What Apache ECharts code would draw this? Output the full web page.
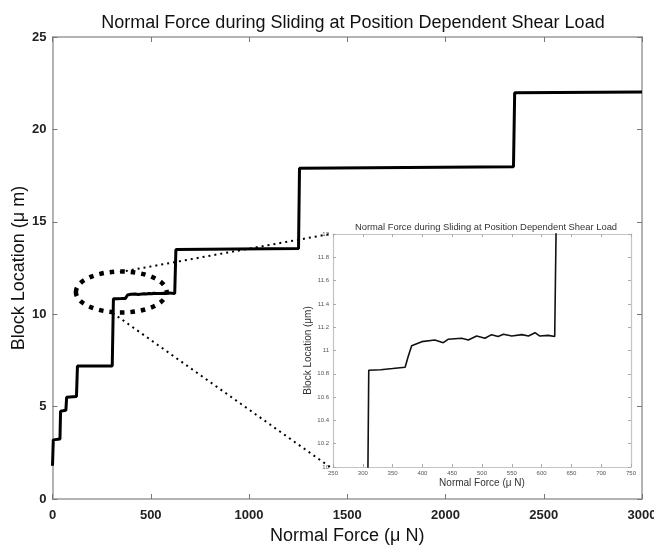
<!DOCTYPE html>
<html>
<head>
<meta charset="utf-8">
<script src="https://cdn.jsdelivr.net/npm/echarts@6/dist/echarts.min.js"></script>
<style>
html,body{margin:0;padding:0;background:#fff;}
#c{width:654px;height:546px;}
</style>
</head>
<body>
<div id="c"></div>
<script>
// ---- data ----
const chartTitle = 'Normal Force during Sliding at Position Dependent Shear Load';
const xAxisName = 'Normal Force (\u03bc N)';
const yAxisName = 'Block Location (\u03bc m)';
const insetYAxisName = 'Block Location (\u03bcm)';

// Normal force (uN) and block location (um) of the sliding trace
const normalForce = [0, 4, 38, 41, 68, 72, 122, 127, 304, 310, 330, 350, 371, 376, 382, 399, 421, 435, 443, 466, 477, 491, 505, 516, 527, 536, 550, 567, 578, 589, 597, 611, 622, 625, 628, 1252, 1257, 1261, 2346, 2352, 2356, 3000];
const blockLocation = [1.8, 3.2, 3.25, 4.75, 4.8, 5.5, 5.55, 7.2, 7.2, 10.83, 10.835, 10.845, 10.856, 10.947, 11.04, 11.076, 11.09, 11.067, 11.096, 11.105, 11.09, 11.124, 11.105, 11.136, 11.12, 11.14, 11.124, 11.136, 11.124, 11.153, 11.124, 11.13, 11.12, 11.105, 13.5, 13.55, 17.9, 17.95, 17.98, 21.98, 22.0, 22.02];

const mainXTicks = [0, 500, 1000, 1500, 2000, 2500, 3000];
const mainYTicks = [0, 5, 10, 15, 20, 25];
const insetXTicks = [250, 300, 350, 400, 450, 500, 550, 600, 650, 700, 750];
const insetYTicks = [10, 10.2, 10.4, 10.6, 10.8, 11, 11.2, 11.4, 11.6, 11.8, 12];

// zoom annotation: ellipse centre/radii in data units, connector start points (main data units)
const ellipseCenter = [350, 11.2];
const ellipseRadii = [231, 1.11];
const connectorTopStart = [343, 12.28];
const connectorBottomStart = [307, 10.06];

// ---- chart ----
const pts = normalForce.map((x, i) => [x, blockLocation[i]]);
const el = document.getElementById('c');
const chart = echarts.init(el, null, {renderer: 'canvas'});
const FONT = 'Liberation Sans, Arial, Helvetica, sans-serif';
const frame = '#9a9a9a';
const iframe = '#c4c4c4';
const plain = v => String(Math.round(v * 10) / 10);

function mainAxisX(pos, labels) {
  return {
    type: 'value', gridIndex: 0, position: pos, min: mainXTicks[0], max: mainXTicks[mainXTicks.length-1], interval: 500,
    name: labels ? xAxisName : '', nameLocation: 'middle', nameGap: 28, nameMoveOverlap: false,
    nameTextStyle: {fontFamily: FONT, fontSize: 18, color: '#111'},
    axisLine: {show: true, onZero: false, lineStyle: {color: frame, width: 1.5}},
    axisTick: {show: true, inside: true, length: 5, lineStyle: {color: '#777'}},
    axisLabel: {show: labels, fontFamily: FONT, fontSize: 13, color: '#222', fontWeight: 'bold', margin: 10, formatter: plain},
    splitLine: {show: false}
  };
}
function mainAxisY(pos, labels) {
  return {
    type: 'value', gridIndex: 0, position: pos, min: mainYTicks[0], max: mainYTicks[mainYTicks.length-1], interval: 5,
    name: labels ? yAxisName : '', nameLocation: 'middle', nameGap: 24, nameMoveOverlap: false,
    nameTextStyle: {fontFamily: FONT, fontSize: 18, color: '#111'},
    axisLine: {show: true, onZero: false, lineStyle: {color: frame, width: 1.5}},
    axisTick: {show: true, inside: true, length: 5, lineStyle: {color: '#777'}},
    axisLabel: {show: labels, fontFamily: FONT, fontSize: 13, color: '#222', fontWeight: 'bold', margin: 6, formatter: plain},
    splitLine: {show: false}
  };
}
function insetAxisX(pos, labels) {
  return {
    type: 'value', gridIndex: 1, position: pos, min: 250, max: 750, interval: 50,
    name: labels ? xAxisName : '', nameLocation: 'middle', nameGap: 11,
    nameTextStyle: {fontFamily: FONT, fontSize: 10, color: '#333'},
    axisLine: {show: true, onZero: false, lineStyle: {color: iframe, width: 1.2}},
    axisTick: {show: true, inside: true, length: 3, lineStyle: {color: '#aaa'}},
    axisLabel: {show: labels, fontFamily: FONT, fontSize: 6, color: '#555', margin: 3, formatter: plain},
    splitLine: {show: false}
  };
}
function insetAxisY(pos, labels) {
  return {
    type: 'value', gridIndex: 1, position: pos, min: 10, max: 12, interval: 0.2,
    name: labels ? insetYAxisName : '', nameLocation: 'middle', nameGap: 18,
    nameTextStyle: {fontFamily: FONT, fontSize: 10, color: '#333'},
    axisLine: {show: true, onZero: false, lineStyle: {color: iframe, width: 1.2}},
    axisTick: {show: true, inside: true, length: 3, lineStyle: {color: '#aaa'}},
    axisLabel: {show: labels, fontFamily: FONT, fontSize: 6, color: '#555', margin: 4, formatter: plain},
    splitLine: {show: false}
  };
}

chart.setOption({
  animation: false,
  backgroundColor: '#fff',
  title: [
    {text: chartTitle, left: 348, top: 9, textAlign: 'center',
     textStyle: {fontFamily: FONT, fontSize: 18, fontWeight: 'normal', color: '#111'}},
    {text: chartTitle, left: 481, top: 218, textAlign: 'center',
     textStyle: {fontFamily: FONT, fontSize: 9.4, fontWeight: 'normal', color: '#333'}}
  ],
  grid: [
    {left: 52.5, top: 37, right: 12, bottom: 47, outerBoundsMode: 'none', containLabel: false},
    {left: 333, top: 234, width: 298, height: 233, show: false, outerBoundsMode: 'none', containLabel: false}
  ],
  xAxis: [mainAxisX('bottom', true), mainAxisX('top', false), insetAxisX('bottom', true), insetAxisX('top', false)],
  yAxis: [mainAxisY('left', true), mainAxisY('right', false), insetAxisY('left', true), insetAxisY('right', false)],
  series: [
    {type: 'line', xAxisIndex: 0, yAxisIndex: 0, data: pts, showSymbol: false, symbol: 'none',
     lineStyle: {color: '#000', width: 3}, clip: true, z: 2},
    {type: 'line', xAxisIndex: 2, yAxisIndex: 2, data: pts, showSymbol: false, symbol: 'none',
     lineStyle: {color: '#111', width: 1.6}, clip: true, z: 10}
  ]
});

function drawAnnotations() {
  const c = chart.convertToPixel({gridIndex: 0}, ellipseCenter);
  const e = chart.convertToPixel({gridIndex: 0}, [ellipseCenter[0] + ellipseRadii[0], ellipseCenter[1] + ellipseRadii[1]]);
  const t0 = chart.convertToPixel({gridIndex: 0}, connectorTopStart);
  const b0 = chart.convertToPixel({gridIndex: 0}, connectorBottomStart);
  const t1 = chart.convertToPixel({gridIndex: 1}, [250, 12]);
  const b1 = chart.convertToPixel({gridIndex: 1}, [250, 10]);
  chart.setOption({
    graphic: [
      {type: 'ellipse', z: 50, shape: {cx: c[0], cy: c[1], rx: Math.abs(e[0] - c[0]), ry: Math.abs(c[1] - e[1])},
       style: {fill: null, stroke: '#000', lineWidth: 4.5, lineDash: [4.5, 6]}},
      {type: 'line', z: 50, shape: {x1: t0[0], y1: t0[1], x2: t1[0] - 3, y2: t1[1]},
       style: {stroke: '#000', lineWidth: 2, lineDash: [2, 4]}},
      {type: 'line', z: 50, shape: {x1: b0[0], y1: b0[1], x2: b1[0] - 3, y2: b1[1]},
       style: {stroke: '#000', lineWidth: 2, lineDash: [2, 4]}}
    ]
  });
}
drawAnnotations();
</script>
</body>
</html>
